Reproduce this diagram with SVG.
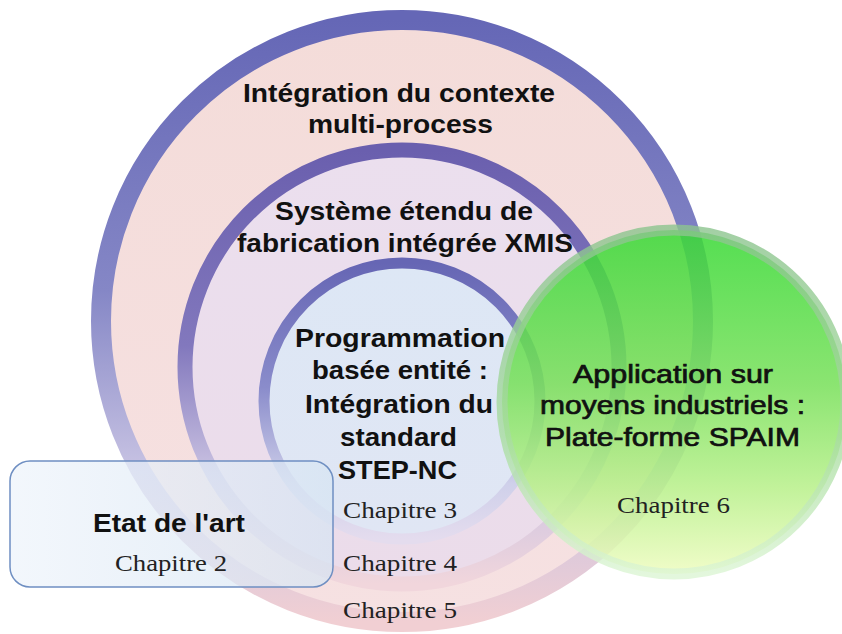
<svg xmlns="http://www.w3.org/2000/svg" width="842" height="634" viewBox="0 0 842 634">
<defs>
<linearGradient id="ringOuter" x1="0" y1="0" x2="0" y2="1">
<stop offset="0" stop-color="#6567b6"/>
<stop offset="0.45" stop-color="#8587c6"/>
<stop offset="0.75" stop-color="#c8c3e3"/>
<stop offset="1" stop-color="#f1cfd3"/>
</linearGradient>
<linearGradient id="ringMid" x1="0" y1="0" x2="0" y2="1">
<stop offset="0" stop-color="#6a5fae"/>
<stop offset="0.45" stop-color="#8278bd"/>
<stop offset="0.75" stop-color="#cbc3e2"/>
<stop offset="1" stop-color="#f1d6dc"/>
</linearGradient>
<linearGradient id="ringIn" x1="0" y1="0" x2="0" y2="1">
<stop offset="0" stop-color="#6666b4"/>
<stop offset="0.45" stop-color="#8a8ccb"/>
<stop offset="0.8" stop-color="#cfd0ea"/>
<stop offset="1" stop-color="#e4dcee"/>
</linearGradient>
<linearGradient id="fillOuter" x1="0" y1="0" x2="0" y2="1">
<stop offset="0" stop-color="#f4dcd9"/>
<stop offset="1" stop-color="#f6e1e2"/>
</linearGradient>
<linearGradient id="fillMid" x1="0" y1="0" x2="0" y2="1">
<stop offset="0" stop-color="#ebdfee"/>
<stop offset="1" stop-color="#ebdcea"/>
</linearGradient>
<linearGradient id="fillIn" x1="0" y1="0" x2="0" y2="1">
<stop offset="0" stop-color="#dde7f5"/>
<stop offset="1" stop-color="#e0e6f4"/>
</linearGradient>
<linearGradient id="greenFill" x1="0" y1="0" x2="0" y2="1">
<stop offset="0" stop-color="#38d935"/>
<stop offset="0.45" stop-color="#78e05a"/>
<stop offset="0.75" stop-color="#b8f08a"/>
<stop offset="1" stop-color="#eefcc0"/>
</linearGradient>
<linearGradient id="greenRing" x1="0" y1="0" x2="0" y2="1">
<stop offset="0" stop-color="#8cc48e"/>
<stop offset="0.6" stop-color="#a8dca0"/>
<stop offset="1" stop-color="#dcf5d4"/>
</linearGradient>
<linearGradient id="boxFill" x1="0" y1="0" x2="1" y2="0">
<stop offset="0" stop-color="#eef4fb"/>
<stop offset="1" stop-color="#d7e5f3"/>
</linearGradient>
</defs>
<style>
.t{font-family:"Liberation Sans",Arial,sans-serif;font-weight:bold;fill:#111;}
.g{font-family:"Liberation Sans",Arial,sans-serif;font-weight:normal;fill:#111;stroke:#111;stroke-width:0.7;}
.c{font-family:"Liberation Serif","Times New Roman",serif;fill:#222;}
</style>
<rect width="842" height="634" fill="#ffffff"/>

<g id="outer">
<circle cx="402" cy="321" r="301" fill="url(#fillOuter)" stroke="url(#ringOuter)" stroke-width="20"/>
<text class="t" x="243" y="102" font-size="26" textLength="312" lengthAdjust="spacingAndGlyphs">Intégration du contexte</text>
<text class="t" x="308" y="133" font-size="26" textLength="185" lengthAdjust="spacingAndGlyphs">multi-process</text>
</g>

<g id="middle">
<circle cx="402" cy="367" r="217" fill="url(#fillMid)" stroke="url(#ringMid)" stroke-width="15"/>
<text class="t" x="275" y="220" font-size="26" textLength="258" lengthAdjust="spacingAndGlyphs">Système étendu de</text>
<text class="t" x="237" y="252" font-size="26" textLength="336" lengthAdjust="spacingAndGlyphs">fabrication intégrée XMIS</text>
</g>

<g id="inner">
<circle cx="402" cy="401" r="138" fill="url(#fillIn)" stroke="url(#ringIn)" stroke-width="11"/>
</g>

<g id="green">
<circle cx="674" cy="402" r="172" fill="url(#greenFill)" fill-opacity="0.86" stroke="url(#greenRing)" stroke-width="11" stroke-opacity="0.8"/>
</g>

<g id="inner-text">
<text class="t" x="295" y="347" font-size="26" textLength="210" lengthAdjust="spacingAndGlyphs">Programmation</text>
<text class="t" x="312" y="379" font-size="26" textLength="176" lengthAdjust="spacingAndGlyphs">basée entité :</text>
<text class="t" x="305" y="413" font-size="26" textLength="188" lengthAdjust="spacingAndGlyphs">Intégration du</text>
<text class="t" x="340" y="446" font-size="26" textLength="117" lengthAdjust="spacingAndGlyphs">standard</text>
<text class="t" x="338" y="479" font-size="26" textLength="119" lengthAdjust="spacingAndGlyphs">STEP-NC</text>
</g>

<g id="green-text">
<text class="g" x="573" y="383" font-size="25" textLength="200" lengthAdjust="spacingAndGlyphs">Application sur</text>
<text class="g" x="540" y="414" font-size="25" textLength="265" lengthAdjust="spacingAndGlyphs">moyens industriels :</text>
<text class="g" x="545" y="446" font-size="25" textLength="255" lengthAdjust="spacingAndGlyphs">Plate-forme SPAIM</text>
<text class="c" x="617" y="513" font-size="23" textLength="113" lengthAdjust="spacingAndGlyphs">Chapitre 6</text>
</g>

<g id="etat">
<rect x="10" y="461" width="323" height="126" rx="20" ry="20" fill="url(#boxFill)" fill-opacity="0.72" stroke="#6f8fc2" stroke-width="1.5"/>
<text class="t" x="93" y="532" font-size="26" textLength="152" lengthAdjust="spacingAndGlyphs">Etat de l'art</text>
<text class="c" x="115" y="571" font-size="23" textLength="112" lengthAdjust="spacingAndGlyphs">Chapitre 2</text>
</g>

<g id="chapters">
<text class="c" x="343" y="518" font-size="23" textLength="114" lengthAdjust="spacingAndGlyphs">Chapitre 3</text>
<text class="c" x="343" y="571" font-size="23" textLength="114" lengthAdjust="spacingAndGlyphs">Chapitre 4</text>
<text class="c" x="343" y="618" font-size="23" textLength="114" lengthAdjust="spacingAndGlyphs">Chapitre 5</text>
</g>
</svg>
